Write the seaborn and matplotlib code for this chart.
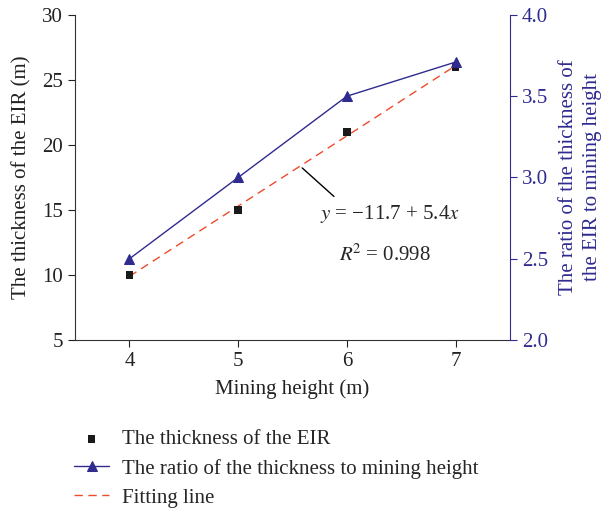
import numpy as np
import pandas as pd
import matplotlib
matplotlib.use("Agg")
import matplotlib.pyplot as plt
import seaborn as sns

# dados
mining_height = [4, 5, 6, 7]
eir_thickness = [10, 15, 21, 26]
ratio = [2.5, 3.0, 3.5, 3.71]
fit_intercept = -11.7
fit_slope = 5.4

sns.set_style("ticks")
plt.rcParams['font.family'] = ['Liberation Serif', 'DejaVu Serif']
plt.rcParams['mathtext.fontset'] = 'stix'

blue = '#2f2b8f'
red = '#ee4b2b'
fs = 15

df = pd.DataFrame({'h': mining_height, 't': eir_thickness, 'r': ratio})
fit_x = np.array([mining_height[0], mining_height[-1]])
df_fit = pd.DataFrame({'h': fit_x, 'y': fit_intercept + fit_slope * fit_x})

fig = plt.figure(figsize=(6.05, 5.13), dpi=100)
ax = fig.add_axes([0.124, 0.337, 0.719, 0.634])
ax2 = ax.twinx()

sns.lineplot(data=df_fit, x='h', y='y', ax=ax, color=red, linestyle=(0, (6, 4)),
             linewidth=1.0, label='Fitting line', zorder=2)
sns.scatterplot(data=df, x='h', y='t', ax=ax, color='#1a1a1a', marker='s', s=28,
                edgecolor='none', label='The thickness of the EIR', zorder=3)
sns.lineplot(data=df, x='h', y='r', ax=ax2, color=blue, marker='^', markersize=7,
             markeredgecolor=blue, linewidth=1.0,
             label='The ratio of the thickness to mining height')

ax.set_xlim(3.5, 7.5)
ax.set_ylim(5, 30)
ax.set_xticks([4, 5, 6, 7])
ax.set_yticks([5, 10, 15, 20, 25, 30])
ax2.set_ylim(2.0, 4.0)
ax2.set_yticks([2.0, 2.5, 3.0, 3.5, 4.0])
ax2.set_yticklabels(['2.0', '2.5', '3.0', '3.5', '4.0'])

ax.set_xlabel('Mining height (m)', fontsize=fs, color='#222222', labelpad=6)
ax.set_ylabel('The thickness of the EIR (m)', fontsize=fs, color='#222222', labelpad=8)
ax2.set_ylabel('The ratio of the thickness of\nthe EIR to mining height', fontsize=fs,
               color=blue, linespacing=1.35, labelpad=8)

ax.tick_params(labelsize=fs, colors='#222222', direction='out', length=5)
ax2.tick_params(axis='y', labelsize=fs, colors=blue, direction='out', length=5)

ax.spines['top'].set_visible(False)
ax2.spines['top'].set_visible(False)
ax.spines['right'].set_visible(False)
ax2.spines['left'].set_visible(False)
ax2.spines['bottom'].set_visible(False)
ax2.spines['right'].set_color(blue)
ax.spines['left'].set_color('#333333')
ax.spines['bottom'].set_color('#333333')

# anotação da reta ajustada
ax.annotate('', xy=(5.57, fit_intercept + fit_slope * 5.57), xytext=(5.9, 15.9),
            arrowprops=dict(arrowstyle='-', color='black', linewidth=1.0))
ax.text(6.4, 14.7, r'$y$ = −11.7 + 5.4$x$', fontsize=fs, ha='center', va='center')
ax.text(6.35, 11.5, r'$R^{\!2}$ = 0.998', fontsize=fs, ha='center', va='center')

h1, l1 = ax.get_legend_handles_labels()
h2, l2 = ax2.get_legend_handles_labels()
ax.get_legend().remove()
ax2.get_legend().remove()
handles = [h1[1], h2[0], h1[0]]
labels = [l1[1], l2[0], l1[0]]
fig.legend(handles, labels, loc='upper left', bbox_to_anchor=(0.122, 0.162),
           frameon=False, fontsize=fs, handlelength=1.7, labelspacing=0.45,
           handletextpad=0.6, borderpad=0, borderaxespad=0)

fig.savefig('out.png', dpi=100)
